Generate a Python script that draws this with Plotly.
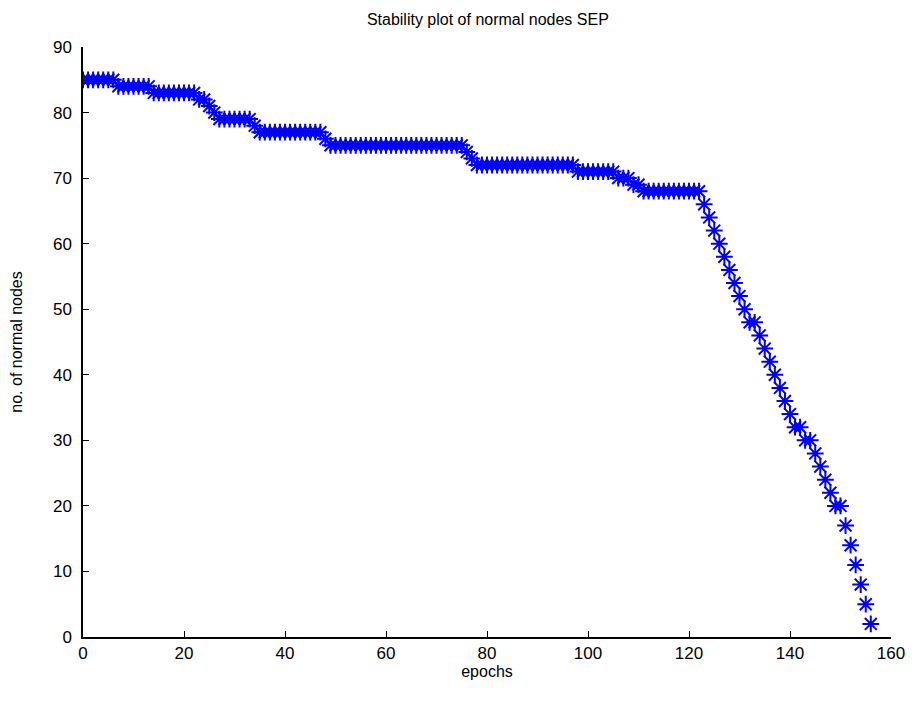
import plotly.graph_objects as go

# epochs 0..156 and number of normal nodes alive
epochs = list(range(0, 157))
nodes = (
    [85] * 7 +            # 0-6
    [84] * 7 +            # 7-13
    [83] * 9 +            # 14-22
    [82, 82, 81, 80] +    # 23-26
    [79] * 7 +            # 27-33
    [78] +                # 34
    [77] * 13 +           # 35-47
    [76] +                # 48
    [75] * 27 +           # 49-75
    [74, 73] +            # 76-77
    [72] * 20 +           # 78-97
    [71] * 8 +            # 98-105
    [70] * 3 +            # 106-108
    [69] * 2 +            # 109-110
    [68] * 12 +           # 111-122
    [66, 64, 62, 60, 58, 56, 54, 52, 50, 48, 48, 46, 44, 42, 40,   # 123-137
     38, 36, 34, 32, 32, 30, 30, 28, 26, 24, 22, 20, 20,           # 138-150
     17, 14, 11, 8, 5, 2]                                          # 151-156
)

x_ticks = [0, 20, 40, 60, 80, 100, 120, 140, 160]
y_ticks = [0, 10, 20, 30, 40, 50, 60, 70, 80, 90]

fig = go.Figure()
fig.add_trace(go.Scatter(
    x=epochs, y=nodes, mode="markers",
    marker=dict(symbol="asterisk-open", size=14, color="#0000ff",
                line=dict(color="#0000ff", width=2)),
    showlegend=False,
))

fig.update_layout(
    width=917, height=702,
    margin=dict(l=83, r=24, t=47, b=65),
    paper_bgcolor="white", plot_bgcolor="white",
    font=dict(family="Liberation Sans, Arial, sans-serif", color="black", size=16),
    title=dict(text="Stability plot of normal nodes SEP", x=0.532, xanchor="center",
               y=0.972, yanchor="middle", font=dict(size=16)),
    xaxis=dict(range=[0, 160], tickvals=x_ticks, ticks="inside", ticklen=6,
               showline=True, linecolor="black", linewidth=1.5, tickcolor="black",
               showgrid=False, zeroline=False, tickfont=dict(size=17),
               title=dict(text="epochs", font=dict(size=16), standoff=0)),
    yaxis=dict(range=[0, 90], tickvals=y_ticks, ticks="inside", ticklen=6,
               showline=True, linecolor="black", linewidth=1.5, tickcolor="black",
               showgrid=False, zeroline=False, tickfont=dict(size=17),
               ticklabelstandoff=6,
               title=dict(text="no. of normal nodes", font=dict(size=16), standoff=26)),
)

fig.write_html("out.html")
